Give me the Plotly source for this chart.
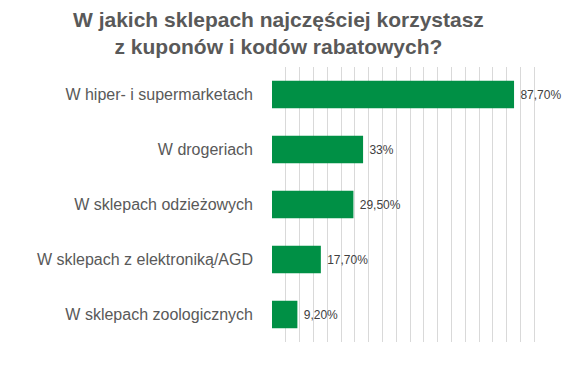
import plotly.graph_objects as go

categories = ["W hiper- i supermarketach", "W drogeriach", "W sklepach odzieżowych",
              "W sklepach z elektroniką/AGD", "W sklepach zoologicznych"]
values = [87.7, 33, 29.5, 17.7, 9.2]
labels = ["87,70%", "33%", "29,50%", "17,70%", "9,20%"]
title_lines = ["W jakich sklepach najczęściej korzystasz", "z kuponów i kodów rabatowych?"]

L, R, T, B = 272, 39, 67, 23
W, H = 587, 365
pw, ph = W - L - R, H - T - B

fig = go.Figure(go.Bar(
    x=values, y=categories, orientation="h",
    marker=dict(color="#009045", line=dict(width=0)),
    text=[" " + s for s in labels], textposition="outside", cliponaxis=False,
    textfont=dict(family="Liberation Sans, Arial", size=12, color="#404040"),
    width=0.5,
))

fig.add_annotation(
    text="<b>" + "<br>".join(title_lines) + "</b>",
    xref="paper", yref="paper", x=(278 - L) / pw, y=1 + (T - 6) / ph,
    xanchor="center", yanchor="top", showarrow=False, align="center",
    font=dict(family="Liberation Sans, Arial", size=21, color="#595959"),
)

fig.update_layout(
    width=W, height=H,
    margin=dict(l=L, r=R, t=T, b=B),
    paper_bgcolor="white", plot_bgcolor="white",
    showlegend=False,
    xaxis=dict(range=[0, 100], tickvals=list(range(0, 100, 5)), showticklabels=False,
               showgrid=True, gridcolor="#d9d9d9", gridwidth=1, zeroline=False,
               showline=False, fixedrange=True, automargin=False),
    yaxis=dict(autorange="reversed", ticks="", ticklabelstandoff=18, automargin=False,
               tickfont=dict(family="Liberation Sans, Arial", size=16, color="#595959"),
               showline=False, showgrid=False),
)

fig.write_html("out.html", config={"displayModeBar": False},
               post_script="document.body.style.margin='0';")
